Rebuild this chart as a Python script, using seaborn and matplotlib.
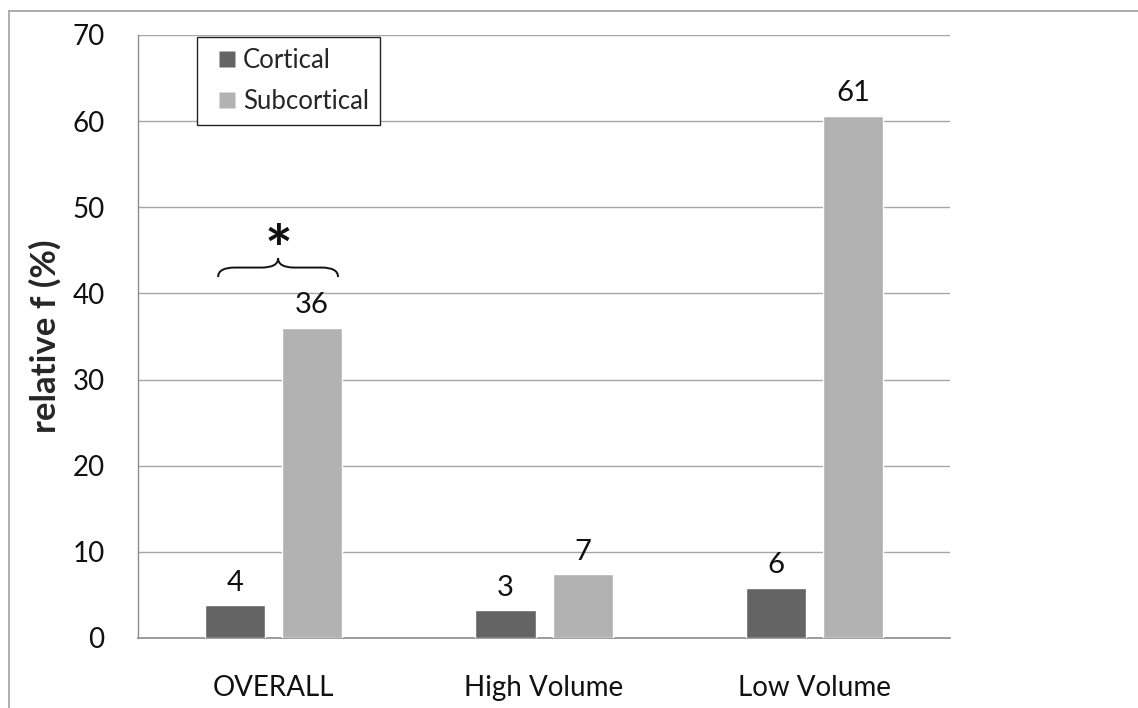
import matplotlib
matplotlib.use("Agg")
import matplotlib.pyplot as plt
from matplotlib.path import Path
from matplotlib.patches import PathPatch
from matplotlib.lines import Line2D
import seaborn as sns
import pandas as pd

# Relative frequency (%) of lesion location by group
groups = ["OVERALL", "High Volume", "Low Volume"]
cortical = [3.8, 3.2, 5.8]
subcortical = [36.0, 7.4, 60.6]
series_names = ["Cortical", "Subcortical"]
series_colors = ["#646464", "#b2b2b2"]
y_ticks = [0, 10, 20, 30, 40, 50, 60, 70]

df = pd.DataFrame({
    "group": groups * 2,
    "location": [series_names[0]] * 3 + [series_names[1]] * 3,
    "value": cortical + subcortical,
})

sns.set_theme(style="white")
plt.rcParams["font.family"] = ["Lato", "DejaVu Sans"]

fig = plt.figure(figsize=(11.38, 7.08), dpi=100)
ax = fig.add_axes([0.1213, 0.0989, 0.7135, 0.8517])

sns.barplot(data=df, x="group", y="value", hue="location", order=groups,
            hue_order=series_names, palette=series_colors, width=0.57, gap=0.22,
            saturation=1, errorbar=None, legend=False, ax=ax, zorder=3)

for cont in ax.containers:
    ax.bar_label(cont, fmt="%.0f", padding=7, fontsize=21, color="#111111")

ax.set_ylim(0, 70)
ax.set_xlim(-0.5, 2.5)
ax.set_yticks(y_ticks)
ax.yaxis.grid(True, color="#a6a6a6", linewidth=1.0, zorder=0)
ax.set_axisbelow(True)
for side in ["top", "right"]:
    ax.spines[side].set_visible(False)
ax.spines["left"].set_color("#8c8c8c")
ax.spines["bottom"].set_color("#8c8c8c")
ax.spines["left"].set_linewidth(1.0)
ax.spines["bottom"].set_linewidth(1.2)
ax.tick_params(axis="y", length=0, pad=24, labelsize=20, labelcolor="#111111")
ax.tick_params(axis="x", length=0, pad=27, labelsize=20, labelcolor="#111111")
ax.set_xlabel("")
ax.set_ylabel("relative f (%)", fontsize=25, fontweight="bold", labelpad=8)

# Legend with square markers centred in a wider handle box
handles = [Line2D([], [], linestyle="none", marker="s", markersize=11,
                  markerfacecolor=c, markeredgecolor="none") for c in series_colors]
leg = ax.legend(handles, series_names, loc="upper left",
                bbox_to_anchor=(0.072, 0.997), fontsize=18.5, frameon=True,
                fancybox=False, edgecolor="#222222", framealpha=1,
                handlelength=1.45, handletextpad=-0.1,
                labelspacing=0.6, borderpad=0.45, borderaxespad=0)
leg.get_frame().set_linewidth(1.0)

# Significance brace over the OVERALL pair
x0, x1 = -0.204, 0.239
xm = (x0 + x1) / 2
y_end, y_mid, y_tip = 41.9, 43.0, 44.1
dx = 0.06
verts = [
    (x0, y_end), (x0, y_mid), (x0 + dx, y_mid),
    (xm - dx, y_mid),
    (xm, y_mid), (xm, y_tip),
    (xm, y_mid), (xm + dx, y_mid),
    (x1 - dx, y_mid),
    (x1, y_mid), (x1, y_end),
]
codes = [Path.MOVETO, Path.CURVE3, Path.CURVE3, Path.LINETO,
         Path.CURVE3, Path.CURVE3, Path.CURVE3, Path.CURVE3,
         Path.LINETO, Path.CURVE3, Path.CURVE3]
ax.add_patch(PathPatch(Path(verts, codes), facecolor="none",
                       edgecolor="#111111", linewidth=1.4, zorder=4))
ax.text(xm, 41.2, "*", ha="center", va="bottom", fontsize=47,
        fontweight="bold", color="#111111")

# Outer frame (left and top edges)
fig.add_artist(Line2D([9 / 1138, 9 / 1138], [0, 1 - 11 / 708],
                      transform=fig.transFigure, color="#a0a0a0", linewidth=1.2))
fig.add_artist(Line2D([9 / 1138, 1], [1 - 11 / 708, 1 - 11 / 708],
                      transform=fig.transFigure, color="#a0a0a0", linewidth=1.2))

fig.savefig("out.png", dpi=100, facecolor="white")
